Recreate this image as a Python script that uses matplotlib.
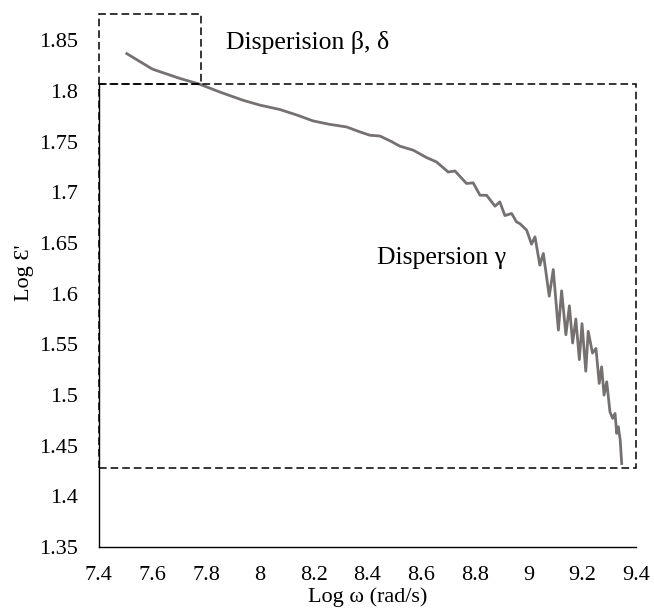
import matplotlib
matplotlib.use("Agg")
import matplotlib.pyplot as plt
from matplotlib.patches import Rectangle

log_w = [7.50, 7.60, 7.70, 7.776, 7.85, 7.937, 8.00, 8.074, 8.14, 8.198, 8.26, 8.322,
         8.372, 8.409, 8.447, 8.49, 8.521, 8.571, 8.62, 8.657, 8.701, 8.726, 8.769,
         8.794, 8.819, 8.844, 8.875, 8.893, 8.912, 8.937, 8.955, 8.968, 8.993, 9.011,
         9.024, 9.042, 9.055, 9.077, 9.092, 9.111, 9.123, 9.139, 9.152, 9.164, 9.176,
         9.189, 9.199, 9.213, 9.222, 9.238, 9.251, 9.263, 9.272, 9.281, 9.291, 9.303,
         9.313, 9.322, 9.328, 9.334, 9.341, 9.347]
log_eps = [1.8375, 1.8215, 1.8125, 1.8066, 1.7990, 1.7908, 1.7860, 1.7817, 1.7760, 1.7704,
           1.7670, 1.7645, 1.7596, 1.7563, 1.7555, 1.7500, 1.7455, 1.7415, 1.7343, 1.7300,
           1.7200, 1.7210, 1.7087, 1.7093, 1.6971, 1.6970, 1.6863, 1.6905, 1.6770, 1.6791,
           1.6708, 1.6690, 1.6626, 1.6488, 1.6560, 1.6281, 1.6396, 1.5975, 1.6238, 1.5640,
           1.6028, 1.5594, 1.5880, 1.5513, 1.5750, 1.5349, 1.5704, 1.5234, 1.5628, 1.5413,
           1.5459, 1.5114, 1.5278, 1.4999, 1.5130, 1.4834, 1.4769, 1.4818, 1.4621, 1.4687,
           1.4560, 1.4310]

x_ticks = [7.4, 7.6, 7.8, 8.0, 8.2, 8.4, 8.6, 8.8, 9.0, 9.2, 9.4]
x_tick_labels = ["7.4", "7.6", "7.8", "8", "8.2", "8.4", "8.6", "8.8", "9", "9.2", "9.4"]
y_ticks = [1.35, 1.4, 1.45, 1.5, 1.55, 1.6, 1.65, 1.7, 1.75, 1.8, 1.85]
y_tick_labels = ["1.35", "1.4", "1.45", "1.5", "1.55", "1.6", "1.65", "1.7", "1.75", "1.8", "1.85"]

# dashed regions (x0, y0, x1, y1)
box_beta = (7.4, 1.8066, 7.78, 1.8756)
box_gamma = (7.4, 1.428, 9.4, 1.8066)

plt.rcParams["font.family"] = ["Liberation Serif", "DejaVu Serif"]

fig = plt.figure(figsize=(6.54, 6.16), dpi=100)
ax = fig.add_axes([0.151, 0.112, 0.8215, 0.872])

ax.plot(log_w, log_eps, color="#767171", lw=2.0,
        solid_joinstyle="round", solid_capstyle="butt")

for x0, y0, x1, y1 in (box_beta, box_gamma):
    ax.add_patch(Rectangle((x0, y0), x1 - x0, y1 - y0, fill=False, ec="black",
                           lw=1.1, ls=(0, (5, 2.6)), clip_on=False, zorder=3))

ax.text(7.875, 1.848, "Disperision β, δ", fontsize=18.5, va="center", ha="left")
ax.text(8.435, 1.635, "Dispersion γ", fontsize=18.5, va="center", ha="left")

ax.set_xlim(7.4, 9.4)
ax.set_ylim(1.35, 1.88)
ax.set_xticks(x_ticks)
ax.set_xticklabels(x_tick_labels)
ax.set_yticks(y_ticks)
ax.set_yticklabels(y_tick_labels)
ax.tick_params(axis="both", length=0, labelsize=16)
ax.tick_params(axis="y", pad=15)
ax.tick_params(axis="x", pad=14)

for side in ("top", "right"):
    ax.spines[side].set_visible(False)
ax.spines["left"].set_bounds(1.35, box_beta[1])
for side in ("left", "bottom"):
    ax.spines[side].set_linewidth(1.0)
    ax.spines[side].set_color("black")

ax.set_xlabel("Log ω (rad/s)", fontsize=16, labelpad=1)
ax.set_ylabel("Log Ɛ'", fontsize=16)
ax.yaxis.set_label_coords(-0.12, 0.51)

fig.savefig("out.png", dpi=100)
